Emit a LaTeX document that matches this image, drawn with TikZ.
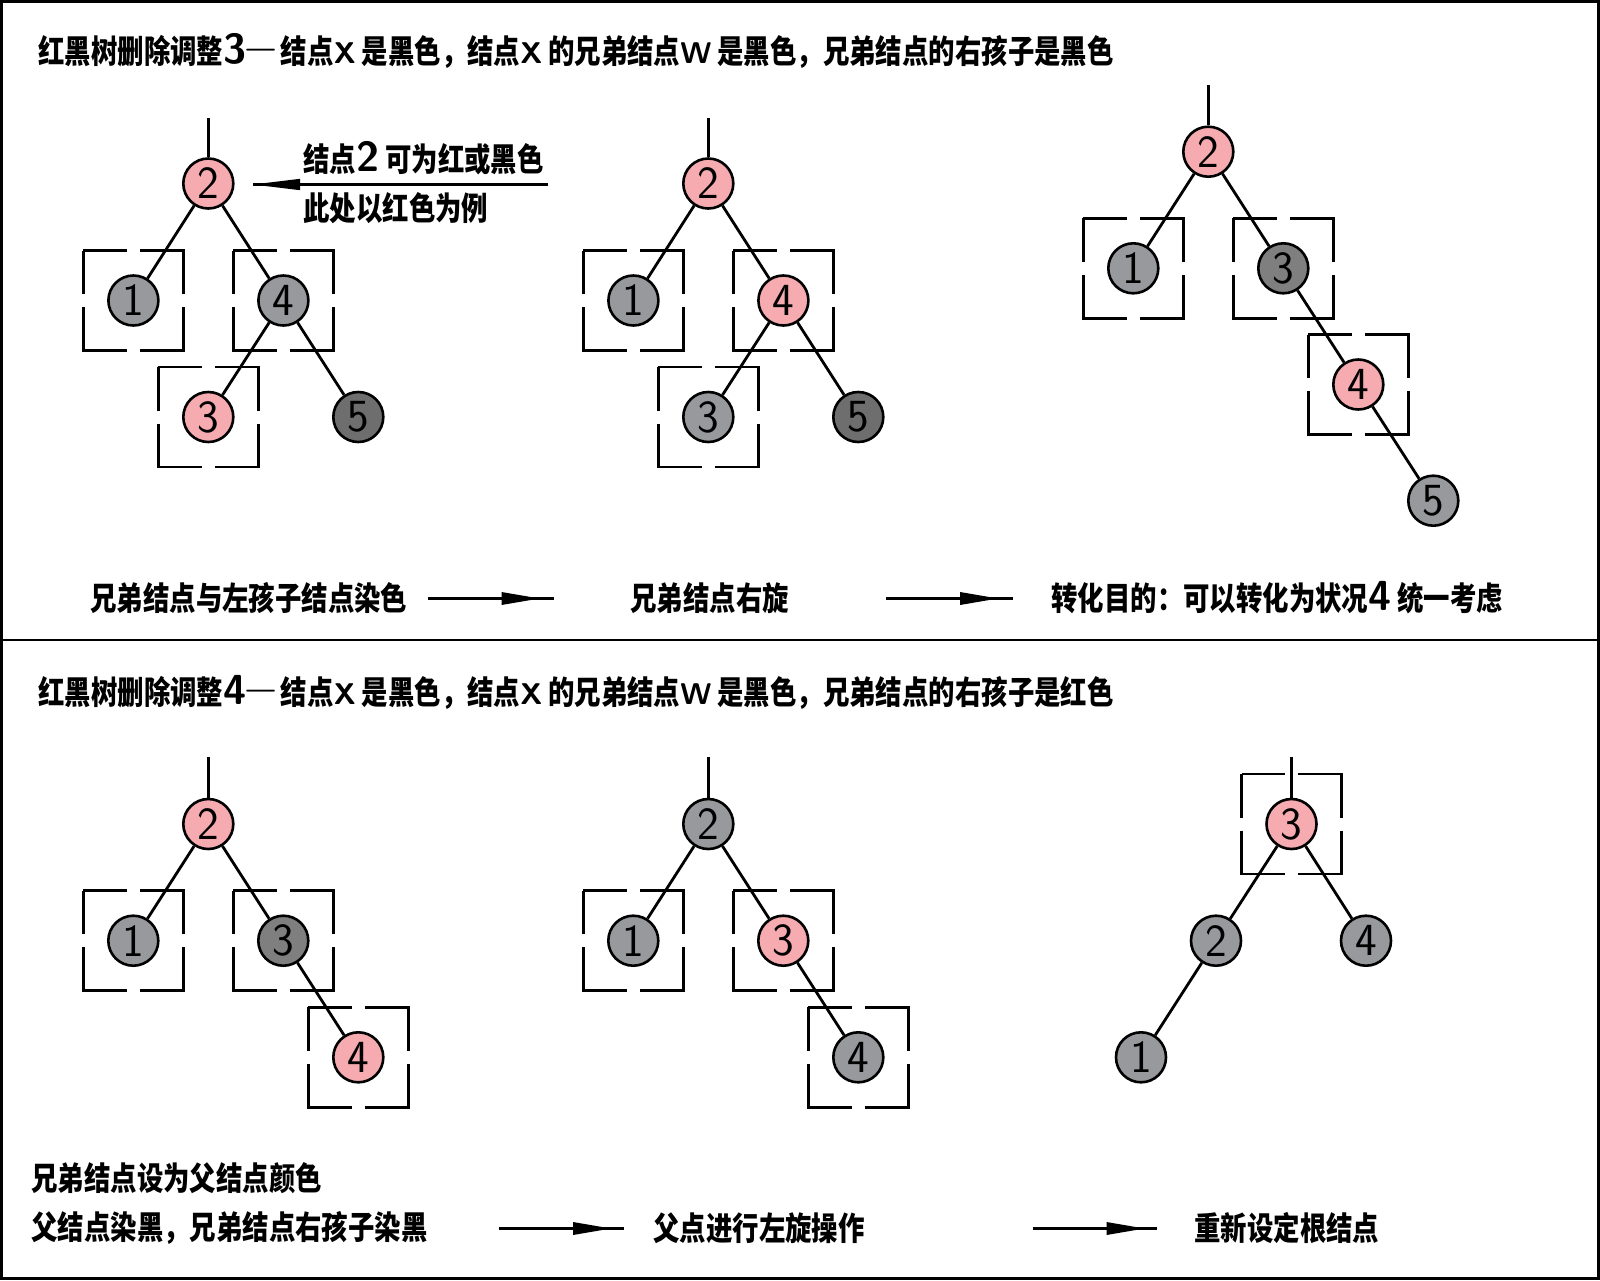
\documentclass[tikz,border=0pt]{standalone}
\usepackage{fontspec}
\newfontfamily\cjk{Noto Sans CJK SC}[FakeStretch=0.815]
\definecolor{pk}{HTML}{F5ABAF}
\definecolor{lgr}{HTML}{98999D}
\definecolor{dgr}{HTML}{6E6E6E}
\definecolor{mgr}{HTML}{7F7F7F}
\newcommand\numfnt{\fontsize{23pt}{23pt}\sffamily}
\newcommand\dgt[1]{{\fontsize{21pt}{21pt}\sffamily #1}}
\newcommand\ltr[1]{{\fontsize{15pt}{15pt}\sffamily #1}}
\newcommand\dsh{\raisebox{3pt}{{\fontsize{13pt}{13pt}\sffamily —}}}
\tikzset{
  tn/.style={circle, draw=black, line width=1.3pt, minimum size=25pt, inner sep=0pt, font=\numfnt},
  rn/.style={tn, fill=pk},
  bn/.style={tn, fill=lgr},
  dn/.style={tn, fill=dgr},
  mn/.style={tn, fill=mgr},
  lnk/.style={line width=1.4pt},
  dbox/.style={line width=1.3pt, dash pattern=on 43.5pt off 6.5pt, dash phase=21.75pt},
  txt/.style={anchor=west, inner sep=0pt, font=\cjk\bfseries\fontsize{16.2pt}{18pt}\selectfont},
  arl/.style={line width=1.1pt}
}
\newcommand\boxat[1]{\draw[dbox] ([shift={(-50,-50)}]#1.center) rectangle ([shift={(50,50)}]#1.center);}
\begin{document}
\begin{tikzpicture}[x=0.5pt,y=-0.5pt]
\useasboundingbox (0,0) rectangle (1600,1280);
\fill[white] (0,0) rectangle (1600,1280);
\draw[line width=1.5pt] (1.5,1.5) rectangle (1598.5,1278.5);
\coordinate (divl) at (0,640); \coordinate (divr) at (1600,640);
\draw[line width=1.3pt] (divl) -- (divr);

% ---------- Tree A ----------
\node[rn] (a2) at (208.3,183.5) {2};
\node[bn] (a1) at (133.4,300.5) {1};
\node[bn] (a4) at (283.4,300.5) {4};
\node[rn] (a3) at (208.3,417) {3};
\node[dn] (a5) at (358.3,417) {5};
\coordinate (a0) at (208.3,118);
\boxat{a1}\boxat{a4}\boxat{a3}
\draw[lnk] (a0) -- (a2); \draw[lnk] (a2) -- (a1); \draw[lnk] (a2) -- (a4);
\draw[lnk] (a4) -- (a3); \draw[lnk] (a4) -- (a5);

% ---------- Tree B ----------
\node[rn] (b2) at (708.3,183.5) {2};
\node[bn] (b1) at (633.4,300.5) {1};
\node[rn] (b4) at (783.4,300.5) {4};
\node[bn] (b3) at (708.3,417) {3};
\node[dn] (b5) at (858.3,417) {5};
\coordinate (b0) at (708.3,118);
\boxat{b1}\boxat{b4}\boxat{b3}
\draw[lnk] (b0) -- (b2); \draw[lnk] (b2) -- (b1); \draw[lnk] (b2) -- (b4);
\draw[lnk] (b4) -- (b3); \draw[lnk] (b4) -- (b5);

% ---------- Tree C ----------
\node[rn] (c2) at (1208.3,151.7) {2};
\node[bn] (c1) at (1133.3,268.3) {1};
\node[mn] (c3) at (1283.3,268.3) {3};
\node[rn] (c4) at (1358.3,384.5) {4};
\node[bn] (c5) at (1433.3,500.7) {5};
\coordinate (c0) at (1208.3,85);
\boxat{c1}\boxat{c3}\boxat{c4}
\draw[lnk] (c0) -- (c2); \draw[lnk] (c2) -- (c1); \draw[lnk] (c2) -- (c3);
\draw[lnk] (c3) -- (c4); \draw[lnk] (c4) -- (c5);

% ---------- Tree D ----------
\node[rn] (d2) at (208.3,824) {2};
\node[bn] (d1) at (133.3,940.7) {1};
\node[mn] (d3) at (283.3,940.7) {3};
\node[rn] (d4) at (358.3,1057.3) {4};
\coordinate (d0) at (208.3,756.7);
\boxat{d1}\boxat{d3}\boxat{d4}
\draw[lnk] (d0) -- (d2); \draw[lnk] (d2) -- (d1); \draw[lnk] (d2) -- (d3);
\draw[lnk] (d3) -- (d4);

% ---------- Tree E ----------
\node[bn] (e2) at (708.3,824) {2};
\node[bn] (e1) at (633.3,940.7) {1};
\node[rn] (e3) at (783.3,940.7) {3};
\node[bn] (e4) at (858.3,1057.3) {4};
\coordinate (e0) at (708.3,756.7);
\boxat{e1}\boxat{e3}\boxat{e4}
\draw[lnk] (e0) -- (e2); \draw[lnk] (e2) -- (e1); \draw[lnk] (e2) -- (e3);
\draw[lnk] (e3) -- (e4);

% ---------- Tree F ----------
\node[rn] (f3) at (1291.5,824) {3};
\node[bn] (f2) at (1216,940.7) {2};
\node[bn] (f4) at (1366,940.7) {4};
\node[bn] (f1) at (1141,1057.3) {1};
\coordinate (f0) at (1291.5,756.7);
\boxat{f3}
\draw[lnk] (f0) -- (f3); \draw[lnk] (f3) -- (f2); \draw[lnk] (f3) -- (f4);
\draw[lnk] (f2) -- (f1);

% ---------- Titles ----------
\node[txt] (t1) at (38,51) {红黑树删除调整\dgt{3}\dsh{} 结点\ltr{X} 是黑色，结点\ltr{X} 的兄弟结点\ltr{W} 是黑色，兄弟结点的右孩子是黑色};
\node[txt] (t2) at (38,692) {红黑树删除调整\dgt{4}\dsh{} 结点\ltr{X} 是黑色，结点\ltr{X} 的兄弟结点\ltr{W} 是黑色，兄弟结点的右孩子是红色};

% ---------- annotation ----------
\node[txt] (n1) at (303,158) {结点\dgt{2} 可为红或黑色};
\node[txt] (n2) at (303,208) {此处以红色为例};
\coordinate (an0) at (548,184.5); \coordinate (an1) at (253,184.5);
\draw[arl] (an0) -- (an1);
\fill (an1) -- ([shift={(47,-5.7)}]an1) -- ([shift={(47,5.7)}]an1) -- cycle;

% ---------- captions top ----------
\node[txt] (k1) at (90,598) {兄弟结点与左孩子结点染色};
\node[txt] (k2) at (630,598) {兄弟结点右旋};
\node[txt] (k3) at (1051,598) {转化目的：可以转化为状况\dgt{4} 统一考虑};
\coordinate (p1s) at (427.5,598.5); \coordinate (p1e) at (554,598.5);
\draw[arl] (p1s) -- (p1e);
\fill ([shift={(74,-6.5)}]p1s) -- ([shift={(112,0)}]p1s) -- ([shift={(74,6.5)}]p1s) -- cycle;
\coordinate (p2s) at (886,598.5); \coordinate (p2e) at (1012.5,598.5);
\draw[arl] (p2s) -- (p2e);
\fill ([shift={(74,-6.5)}]p2s) -- ([shift={(112,0)}]p2s) -- ([shift={(74,6.5)}]p2s) -- cycle;

% ---------- captions bottom ----------
\node[txt] (m1) at (31,1178.5) {兄弟结点设为父结点颜色};
\node[txt] (m2) at (31,1228) {父结点染黑，兄弟结点右孩子染黑};
\node[txt] (m3) at (653,1228) {父点进行左旋操作};
\node[txt] (m4) at (1194,1228) {重新设定根结点};
\coordinate (p3s) at (499,1228.5); \coordinate (p3e) at (624,1228.5);
\draw[arl] (p3s) -- (p3e);
\fill ([shift={(74,-6.5)}]p3s) -- ([shift={(112,0)}]p3s) -- ([shift={(74,6.5)}]p3s) -- cycle;
\coordinate (p4s) at (1032.5,1228.5); \coordinate (p4e) at (1157,1228.5);
\draw[arl] (p4s) -- (p4e);
\fill ([shift={(74,-6.5)}]p4s) -- ([shift={(112,0)}]p4s) -- ([shift={(74,6.5)}]p4s) -- cycle;
\end{tikzpicture}
\end{document}
